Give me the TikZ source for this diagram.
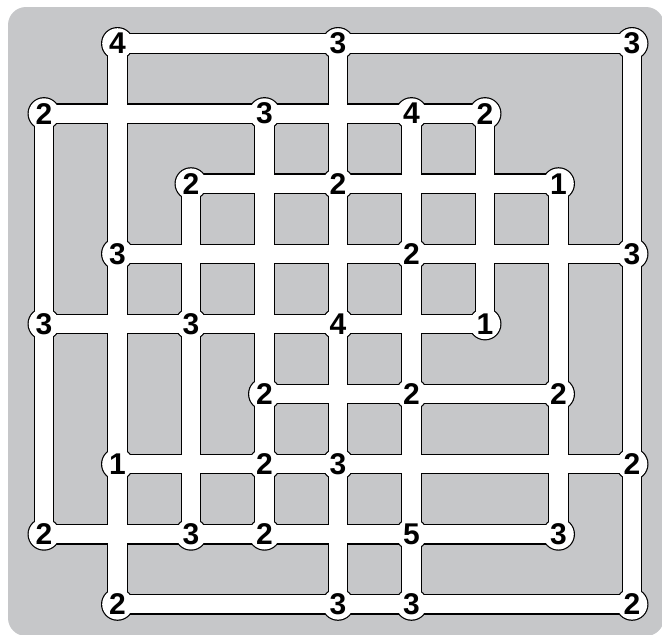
\documentclass[tikz,border=0pt]{standalone}
\usepackage{fontspec}
\setmainfont{Liberation Sans}
\definecolor{bggrey}{RGB}{198,199,201}
\begin{document}
\begin{tikzpicture}[x=1pt,y=1pt,
  outl/.style={line width=20.6pt,draw=black},
  inner/.style={line width=18.2pt,draw=white},
  num/.style={circle,fill=white,inner sep=0pt,minimum size=30.6pt}]
\useasboundingbox (0,0) rectangle (662,-635);
\fill[bggrey,rounded corners=18pt] (8,-7) rectangle (664,-636);
% grid points
\foreach \i in {0,...,8}{
  \foreach \j in {0,...,8}{
    \coordinate (p\i\j) at ({44+73.5*\i},{-(43.5+70.1*\j)});
  }
}
\def\edges{p10/p80,p01/p61,p22/p72,p13/p83,p04/p64,p35/p75,p16/p86,p07/p77,p18/p88,
  p01/p07,p10/p18,p22/p27,p31/p37,p40/p48,p51/p58,p61/p64,p72/p77,p80/p88}
\def\nums{p10/4,p40/3,p80/3,p01/2,p31/3,p51/4,p61/2,p22/2,p42/2,p72/1,
  p13/3,p53/2,p83/3,p04/3,p24/3,p44/4,p64/1,p35/2,p55/2,p75/2,
  p16/1,p36/2,p46/3,p86/2,p07/2,p27/3,p37/2,p57/5,p77/3,p18/2,p48/3,p58/3,p88/2}
% outlines
\foreach \a/\b in \edges { \draw[outl] (\a) -- (\b); }
\foreach \p/\n in \nums { \fill[black] (\p) circle (16.5pt); }
% white corridors
\foreach \a/\b in \edges { \draw[inner] (\a) -- (\b); }
% numbered circles
\foreach \p/\n in \nums { \node[num] (n\p) at (\p) {\fontsize{30pt}{32pt}\selectfont\bfseries\n}; }
\end{tikzpicture}
\end{document}
